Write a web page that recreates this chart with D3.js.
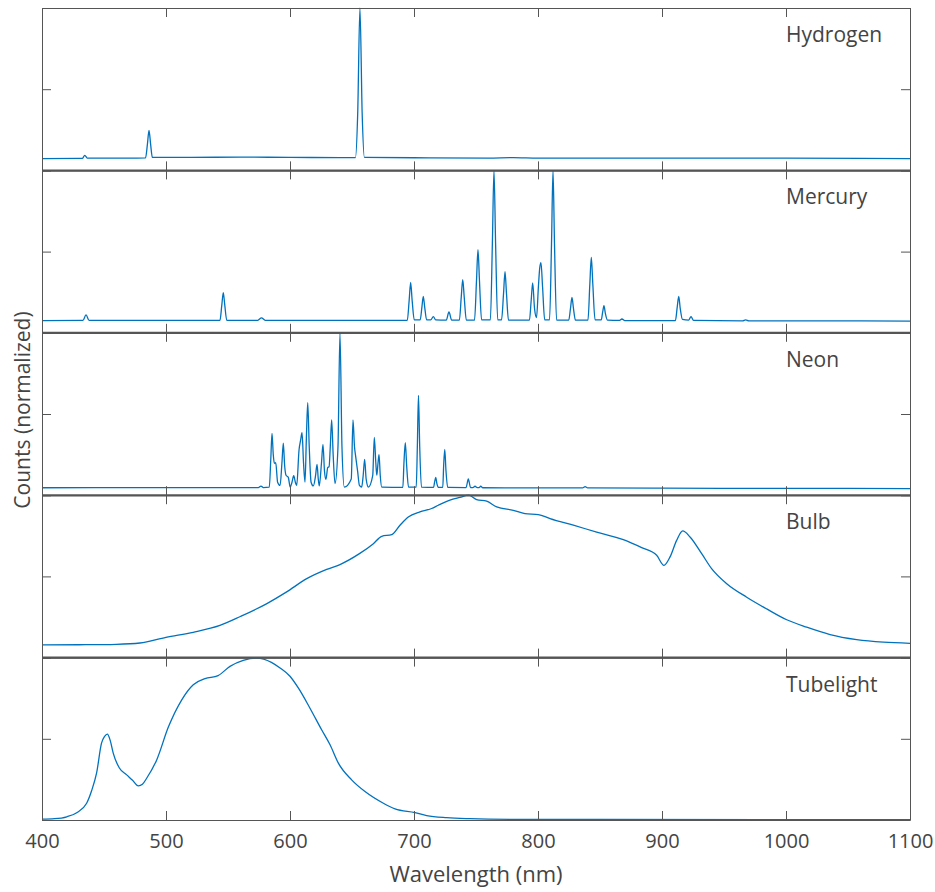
<!DOCTYPE html>
<html>
<head>
<meta charset="utf-8">
<script src="https://cdn.jsdelivr.net/npm/d3@7"></script>
<style>
    body { margin: 0; background: #fff; }
    .frame path, .frame line { stroke: #555; }
    .frame text { font-family: "Open Sans", sans-serif; font-size: 20px; fill: #444; }
</style>
</head>
<body>
<div id="chart"></div>
<script>
var panelNames = ["Hydrogen", "Mercury", "Neon", "Bulb", "Tubelight"];
var xTicks = [400, 500, 600, 700, 800, 900, 1000, 1100];
var yTicks = [0, 0.5, 1];

// [wavelength nm, normalized counts]
var hydrogen = [[400, 0.072], [430, 0.074], [432.5, 0.074], [434.5, 0.093], [436.5, 0.076], [470, 0.075],
    [483.5, 0.077], [485, 0.16], [486.3, 0.247], [487.6, 0.16], [489, 0.08], [520, 0.08], [560, 0.082],
    [600, 0.08], [640, 0.079], [652.8, 0.079], [654.6, 0.35], [656.4, 1.0], [658.2, 0.35], [660, 0.08],
    [700, 0.078], [760, 0.076], [780, 0.079], [800, 0.076], [900, 0.075], [1000, 0.075], [1100, 0.073]];

var mercury = [[400, 0.075], [433, 0.076], [435.5, 0.11], [438, 0.076], [543.5, 0.076], [545, 0.17],
    [546.2, 0.247], [547.4, 0.17], [549, 0.077], [574, 0.077], [577, 0.092], [580, 0.077],
    [694.6, 0.077], [696.1, 0.2], [697.3, 0.31], [698.5, 0.2], [700.2, 0.08], [705, 0.08], [706.4, 0.16],
    [707.5, 0.224], [708.6, 0.16], [710.2, 0.08], [713.5, 0.08], [715.6, 0.099], [717.5, 0.08],
    [726, 0.078], [728.2, 0.128], [730.4, 0.078], [736.6, 0.078], [738.1, 0.22], [739.3, 0.327],
    [740.5, 0.22], [742.2, 0.078], [748.8, 0.078], [750.4, 0.32], [751.6, 0.512], [752.8, 0.32],
    [754.5, 0.08], [761.6, 0.08], [763.2, 0.55], [764.5, 1.0], [765.8, 0.55], [767.5, 0.08],
    [770.6, 0.08], [772.2, 0.24], [773.4, 0.377], [774.6, 0.24], [776.2, 0.078], [793.1, 0.078],
    [794.5, 0.2], [795.7, 0.307], [797.2, 0.15], [798.8, 0.094], [800.3, 0.28], [801.4, 0.4],
    [802.4, 0.432], [803.7, 0.28], [805.4, 0.08], [809.3, 0.08], [810.9, 0.55], [812.1, 1.0],
    [813.3, 0.55], [815, 0.078], [824.8, 0.078], [826.2, 0.15], [827.4, 0.218], [828.6, 0.15],
    [830.2, 0.078], [840.3, 0.078], [841.8, 0.3], [843, 0.465], [844.2, 0.3], [846, 0.08], [851, 0.08],
    [852.2, 0.13], [853.2, 0.167], [854.3, 0.12], [856, 0.078], [865.5, 0.076], [867.7, 0.085],
    [870, 0.075], [910.8, 0.075], [912.3, 0.16], [913.5, 0.224], [914.7, 0.15], [916.5, 0.082],
    [921.5, 0.078], [923.4, 0.1], [925.4, 0.076], [965, 0.074], [967.5, 0.08], [970, 0.074],
    [1000, 0.074], [1100, 0.072]];

var neon = [[400, 0.046], [480, 0.047], [550, 0.047], [574.5, 0.047], [576.6, 0.056], [578.5, 0.047],
    [583.3, 0.05], [584.5, 0.22], [585.5, 0.38], [586.5, 0.25], [587.4, 0.196], [588.5, 0.2], [590, 0.08],
    [592, 0.06], [593.5, 0.2], [594.6, 0.32], [595.7, 0.18], [596.8, 0.123], [598.6, 0.11], [600.2, 0.05],
    [601.6, 0.08], [603, 0.12], [604.3, 0.08], [605.4, 0.06], [607.3, 0.28], [608.6, 0.34], [609.7, 0.385],
    [610.9, 0.2], [612.1, 0.08], [613.2, 0.35], [614.3, 0.57], [615.5, 0.3], [617, 0.08], [618.8, 0.057],
    [620.6, 0.12], [621.8, 0.19], [622.8, 0.1], [623.6, 0.057], [625.4, 0.2], [626.6, 0.313],
    [627.8, 0.15], [629, 0.097], [630.4, 0.17], [631.5, 0.175], [632.5, 0.3], [633.6, 0.463],
    [634.8, 0.25], [636.3, 0.072], [638.7, 0.3], [640.3, 1.0], [641.9, 0.3], [643.8, 0.05], [649.4, 0.1],
    [650.8, 0.463], [652, 0.3], [653, 0.236], [654.5, 0.15], [656, 0.06], [657.8, 0.05], [659, 0.12],
    [660.2, 0.22], [661.4, 0.1], [663.2, 0.05], [666.7, 0.12], [668, 0.356], [669.2, 0.2], [670, 0.123],
    [671, 0.2], [671.8, 0.25], [672.8, 0.12], [674, 0.05], [691, 0.048], [691.9, 0.2], [693, 0.323],
    [694.1, 0.18], [695.6, 0.05], [701.8, 0.05], [702.7, 0.3], [703.6, 0.615], [704.6, 0.3], [706, 0.05],
    [715.8, 0.048], [716.6, 0.08], [717.5, 0.109], [718.5, 0.07], [719.6, 0.048], [723.2, 0.048],
    [723.9, 0.18], [724.8, 0.282], [725.8, 0.15], [727.2, 0.048], [742, 0.047], [743.8, 0.1],
    [745.6, 0.047], [747.5, 0.047], [749.2, 0.055], [751, 0.047], [752.5, 0.047], [753.8, 0.055],
    [755.5, 0.046], [800, 0.045], [836, 0.045], [838, 0.053], [840, 0.045], [900, 0.043],
    [1000, 0.042], [1100, 0.041]];

var bulb = [[400, 0.078], [430, 0.079], [460, 0.082], [479, 0.09], [500, 0.125], [522, 0.156],
    [543.5, 0.198], [560, 0.253], [581, 0.331], [597, 0.403], [613.5, 0.486], [629.6, 0.543],
    [640.3, 0.573], [656, 0.64], [667, 0.70], [674, 0.747], [682, 0.757], [688.7, 0.815], [695.4, 0.866],
    [704.8, 0.897], [714.2, 0.918], [719.6, 0.938], [729, 0.969], [737, 0.986], [744, 1.0],
    [750.5, 0.973], [758.6, 0.963], [766.7, 0.928], [780, 0.907], [789.5, 0.887], [800.2, 0.881],
    [809.7, 0.856], [828.5, 0.815], [847.3, 0.773], [868.8, 0.726], [883.6, 0.677], [895.7, 0.63],
    [901.6, 0.568], [906.5, 0.62], [911.8, 0.722], [916.7, 0.78], [922.6, 0.743], [932, 0.64],
    [940, 0.548], [952.2, 0.455], [968.3, 0.372], [984.4, 0.3], [1000.6, 0.233], [1016.7, 0.187],
    [1035.5, 0.142], [1057, 0.111], [1078.5, 0.095], [1100, 0.088]];

var tubelight = [[400, 0.005], [410, 0.008], [420, 0.02], [428, 0.045], [436, 0.103], [440, 0.18],
    [444, 0.288], [448, 0.473], [450.5, 0.515], [452.7, 0.529], [455, 0.49], [457.5, 0.41], [462.4, 0.32],
    [468.3, 0.278], [473, 0.245], [477.7, 0.21], [481, 0.22], [484.4, 0.257], [492.5, 0.37],
    [501.9, 0.572], [512.7, 0.74], [522, 0.833], [531.5, 0.87], [542, 0.889], [551.6, 0.946],
    [562.3, 0.983], [573, 0.997], [585, 0.971], [592, 0.936], [600, 0.885], [606.7, 0.813], [616, 0.69],
    [625.5, 0.556], [632.3, 0.463], [639, 0.35], [649.7, 0.247], [660.5, 0.175], [675.3, 0.103],
    [684.7, 0.068], [700.8, 0.045], [710.2, 0.027], [726.4, 0.014], [745.2, 0.008], [780, 0.004],
    [850, 0.003], [1000, 0.002], [1100, 0.002]];

var spectra = [hydrogen, mercury, neon, bulb, tubelight];

var margin = {top: 8, right: 25, bottom: 72, left: 42},
    width = 935 - margin.left - margin.right,
    height = 892 - margin.top - margin.bottom,
    panelH = height / spectra.length;

var svg = d3.select("#chart").append("svg")
    .attr("width", 935)
    .attr("height", 892)
    .append("g")
    .attr("transform", "translate(" + margin.left + "," + margin.top + ")");

var xScale = d3.scaleLinear()
    .domain([400, 1100])
    .range([0, width]);

spectra.forEach(function (data, i) {
    var g = svg.append("g")
        .attr("transform", "translate(0," + (i * panelH) + ")");

    var yScale = d3.scaleLinear()
        .domain([0, 1])
        .range([panelH, 0]);

    var line = d3.line()
        .curve(d3.curveMonotoneX)
        .x(d => xScale(d[0]))
        .y(d => yScale(d[1]));

    g.append("path")
        .attr("d", line(data))
        .attr("fill", "none")
        .attr("stroke", "#0072BD")
        .attr("stroke-width", 1.3);

    var last = i == spectra.length - 1;

    g.append("g")
        .attr("class", "frame")
        .attr("transform", "translate(0," + panelH + ")")
        .call(d3.axisBottom(xScale).tickValues(xTicks).tickSize(-9).tickSizeOuter(0)
            .tickPadding(14).tickFormat(last ? d3.format("d") : ""));

    g.append("g")
        .attr("class", "frame")
        .call(d3.axisTop(xScale).tickValues(xTicks).tickSize(-9).tickSizeOuter(0).tickFormat(""));

    g.append("g")
        .attr("class", "frame")
        .call(d3.axisLeft(yScale).tickValues(yTicks).tickSize(-9).tickSizeOuter(0).tickFormat(""));

    g.append("g")
        .attr("class", "frame")
        .attr("transform", "translate(" + width + ",0)")
        .call(d3.axisRight(yScale).tickValues(yTicks).tickSize(-9).tickSizeOuter(0).tickFormat(""));

    g.append("text")
        .attr("x", xScale(1000))
        .attr("y", 34)
        .attr("fill", "#444")
        .style("font-family", "'Open Sans', sans-serif")
        .style("font-size", "21px")
        .text(panelNames[i]);
});

// thicker seams between panels
svg.selectAll(".seam")
    .data(d3.range(1, spectra.length))
    .join("line")
    .attr("x1", 0)
    .attr("x2", width)
    .attr("y1", d => d * panelH)
    .attr("y2", d => d * panelH)
    .attr("stroke", "#555")
    .attr("stroke-width", 2);

svg.append("text")
    .attr("x", width / 2)
    .attr("y", height + 62)
    .attr("text-anchor", "middle")
    .attr("fill", "#444")
    .style("font-family", "'Open Sans', sans-serif")
    .style("font-size", "22px")
    .text("Wavelength (nm)");

svg.append("text")
    .attr("transform", "translate(-12," + (height / 2 - 4) + ") rotate(-90)")
    .attr("text-anchor", "middle")
    .attr("fill", "#444")
    .style("font-family", "'Open Sans', sans-serif")
    .style("font-size", "21px")
    .text("Counts (normalized)");
</script>
</body>
</html>
